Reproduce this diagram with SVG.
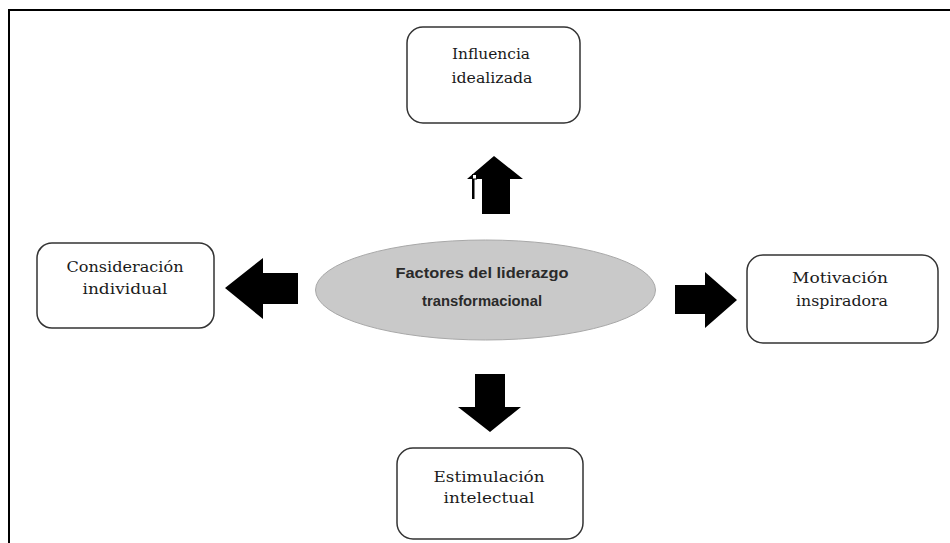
<svg xmlns="http://www.w3.org/2000/svg" width="950" height="543" viewBox="0 0 950 543">
<style>
.box{fill:#fff;stroke:#333;stroke-width:1.5}
.t{font-family:"DejaVu Serif","Liberation Serif",serif;font-size:15.5px;fill:#1a1a1a;text-anchor:middle}
.c{font-family:"Liberation Sans","DejaVu Sans",sans-serif;font-size:14px;font-weight:bold;fill:#2a2a2a;text-anchor:middle}
.arr{fill:#000}
</style>
<rect width="950" height="543" fill="#fff"/>
<g id="frame">
<line x1="8" y1="10" x2="950" y2="10" stroke="#000" stroke-width="2"/>
<line x1="9" y1="10" x2="9" y2="543" stroke="#000" stroke-width="2"/>
</g>
<g id="center">
<ellipse cx="485.5" cy="290" rx="170" ry="50" fill="#c9c9c9" stroke="#a8a8a8" stroke-width="1"/>
<text class="c" x="482" y="278" textLength="173" lengthAdjust="spacingAndGlyphs">Factores del liderazgo</text>
<text class="c" x="482" y="306" textLength="120" lengthAdjust="spacingAndGlyphs">transformacional</text>
</g>
<g id="influencia">
<rect class="box" x="407" y="27" width="173" height="96" rx="16"/>
<text class="t" x="491" y="59" textLength="78" lengthAdjust="spacingAndGlyphs">Influencia</text>
<text class="t" x="492" y="83" textLength="81" lengthAdjust="spacingAndGlyphs">idealizada</text>
</g>
<g id="consideracion">
<rect class="box" x="37" y="243" width="177" height="85" rx="15"/>
<text class="t" x="125" y="272" textLength="117" lengthAdjust="spacingAndGlyphs">Consideración</text>
<text class="t" x="125" y="294" textLength="85" lengthAdjust="spacingAndGlyphs">individual</text>
</g>
<g id="motivacion">
<rect class="box" x="747" y="255" width="191" height="88" rx="16"/>
<text class="t" x="840" y="283" textLength="96" lengthAdjust="spacingAndGlyphs">Motivación</text>
<text class="t" x="842" y="306" textLength="92" lengthAdjust="spacingAndGlyphs">inspiradora</text>
</g>
<g id="estimulacion">
<rect class="box" x="397" y="448" width="186" height="91" rx="16"/>
<text class="t" x="489" y="482" textLength="111" lengthAdjust="spacingAndGlyphs">Estimulación</text>
<text class="t" x="489" y="503" textLength="91" lengthAdjust="spacingAndGlyphs">intelectual</text>
</g>
<g id="connectors">
<polygon class="arr" points="494,156 523,179 510,179 510,214 482,214 482,179 467,179"/>
<rect x="472" y="179" width="2.5" height="20" fill="#000"/>
<rect x="472.5" y="174.5" width="4" height="4.5" fill="#fff" stroke="#000" stroke-width="1"/>
<polygon class="arr" points="475,374 505,374 505,407 521,407 490,432 458,407 475,407"/>
<polygon class="arr" points="225,288 263,258 263,273 298,273 298,304 263,304 263,319"/>
<polygon class="arr" points="675,285 705,285 705,272 737,300 705,328 705,314 675,314"/>
</g>
</svg>
